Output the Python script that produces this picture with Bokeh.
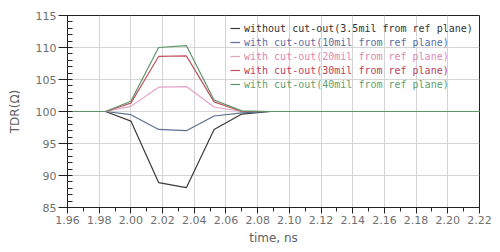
from bokeh.plotting import figure
from bokeh.models import SingleIntervalTicker, Range1d, Legend, LegendItem, PrintfTickFormatter
from bokeh.embed import file_html
from bokeh.resources import INLINE

time_ns = [1.96, 1.984, 2.000, 2.0175, 2.035, 2.0525, 2.070, 2.088, 2.22]
without_35 = [100, 100, 98.5, 88.9, 88.1, 97.2, 99.6, 100, 100]
with_10 = [100, 100, 99.5, 97.2, 97.0, 99.3, 99.8, 100, 100]
with_20 = [100, 100, 100.8, 103.8, 103.9, 100.7, 100.0, 100, 100]
with_30 = [100, 100, 101.3, 108.6, 108.7, 101.5, 100.0, 100, 100]
with_40 = [100, 100, 101.6, 110.0, 110.3, 101.8, 100.1, 100, 100]

labels = [
    "without cut-out(3.5mil from ref plane)",
    "with cut-out(10mil from ref plane)",
    "with cut-out(20mil from ref plane)",
    "with cut-out(30mil from ref plane)",
    "with cut-out(40mil from ref plane)",
]
series = [without_35, with_10, with_20, with_30, with_40]
line_colors = ["#3a3a3a", "#5b7090", "#e3a3c3", "#c25262", "#5e9466"]
text_colors = ["#333333", "#5a6ea8", "#e088b0", "#c04060", "#60a070"]

FRAME_H = 192
p = figure(width=500, height=252, output_backend="svg", toolbar_location=None,
           x_range=Range1d(1.96, 2.22), y_range=Range1d(85, 115),
           min_border_left=67, min_border_right=21, min_border_top=15, min_border_bottom=45)
p.background_fill_color = "white"
p.border_fill_color = "white"
p.outline_line_color = "#222222"
p.outline_line_width = 1

p.xaxis.ticker = SingleIntervalTicker(interval=0.02, num_minor_ticks=2)
p.yaxis.ticker = SingleIntervalTicker(interval=5, num_minor_ticks=5)
p.xaxis.formatter = PrintfTickFormatter(format="%.2f")
p.xgrid.ticker = p.xaxis.ticker
p.ygrid.ticker = p.yaxis.ticker
p.grid.grid_line_color = "#d4d4d4"
p.grid.grid_line_width = 1

for ax in (p.xaxis, p.yaxis):
    ax.axis_line_color = "#222222"
    ax.major_tick_line_color = "#222222"
    ax.minor_tick_line_color = "#222222"
    ax.major_label_text_font = "DejaVu Sans"
    ax.major_label_text_font_size = "11px"
    ax.major_label_text_color = "#707070"
    ax.axis_label_text_font = "DejaVu Sans"
    ax.axis_label_text_font_size = "12px"
    ax.axis_label_text_font_style = "normal"
    ax.axis_label_text_color = "#606060"

p.xaxis.major_tick_out = 6
p.xaxis.major_tick_in = 0
p.xaxis.minor_tick_out = 4
p.xaxis.minor_tick_in = 0
p.xaxis.major_label_standoff = 2
p.xaxis.axis_label = "time, ns"
p.xaxis.axis_label_standoff = 4

p.yaxis.major_tick_out = 9
p.yaxis.major_tick_in = 0
p.yaxis.minor_tick_out = 0
p.yaxis.minor_tick_in = 5
p.yaxis.major_label_standoff = 2
p.yaxis.axis_label = "TDR(\u03a9)"
p.yaxis.axis_label_standoff = 11

for i, (lab, ys, lc, tc) in enumerate(zip(labels, series, line_colors, text_colors)):
    r = p.line(time_ns, ys, line_color=lc, line_width=1.2)
    lg = Legend(items=[LegendItem(label=lab, renderers=[r])],
                location=(163, FRAME_H - 20 - 14 * i))
    lg.margin = 0
    lg.padding = 0
    lg.spacing = 0
    lg.label_height = 14
    lg.glyph_height = 14
    lg.glyph_width = 10
    lg.label_standoff = 4
    lg.label_text_font = "DejaVu Sans Mono"
    lg.label_text_font_size = "10px"
    lg.label_text_color = tc
    lg.border_line_alpha = 0
    lg.background_fill_alpha = 0
    p.add_layout(lg, "center")

open("out.html", "w").write(file_html(p, INLINE))
